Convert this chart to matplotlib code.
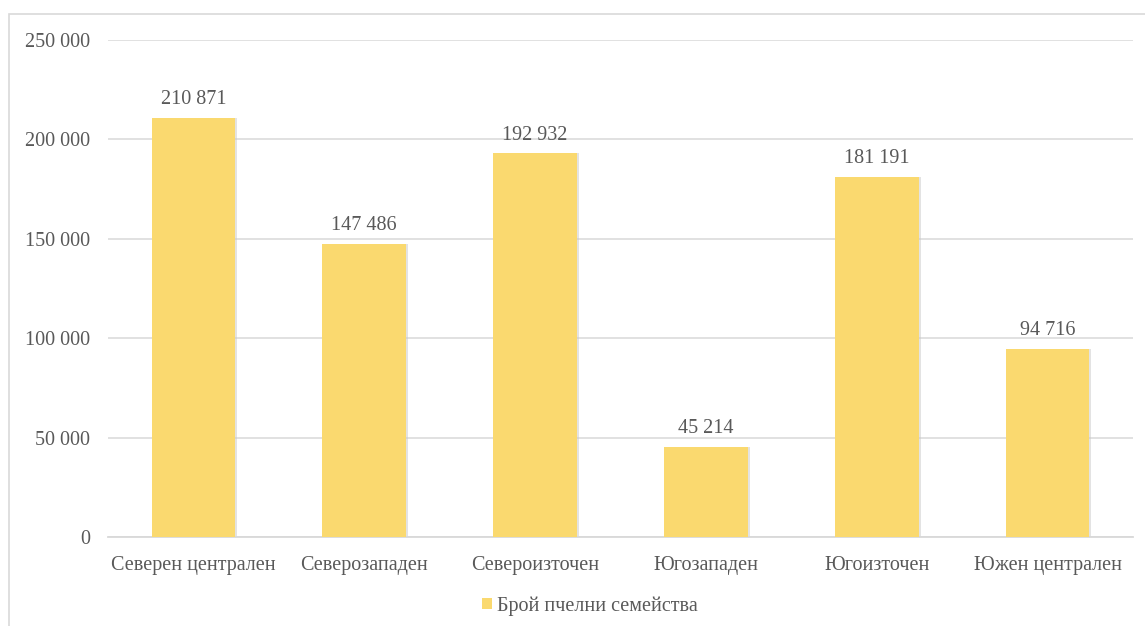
import matplotlib.pyplot as plt
from matplotlib.patches import Rectangle
from matplotlib.ticker import FuncFormatter

regions = ['Северен централен', 'Северозападен', 'Североизточен',
           'Югозападен', 'Югоизточен', 'Южен централен']
colonies = [210871, 147486, 192932, 45214, 181191, 94716]
series_name = 'Брой пчелни семейства'

plt.rcParams['font.family'] = ['Liberation Serif', 'DejaVu Serif']
txt = '#595959'
bar_col = '#FAD96F'
fs = 14.5

fig = plt.figure(figsize=(11.45, 6.26), dpi=100)
ax = fig.add_axes([108/1145, 1 - 537/626, (1133-108)/1145, (537-40)/626])

# outer chart frame (runs past the right and bottom edges)
fig.patches.append(Rectangle((9/1145, -0.1), 1.2, 1 - 14/626 + 0.1,
                             transform=fig.transFigure, fill=False,
                             edgecolor='#d9d9d9', lw=1.2))

x = range(len(regions))
# soft drop shadow behind the bars
ax.bar([i + 0.012 for i in x], colonies, width=0.49, color='#c8c8c8',
       alpha=0.5, zorder=2)
bars = ax.bar(x, colonies, width=0.49, color=bar_col, zorder=3,
              label=series_name)

fmt = lambda v: f'{int(v):,}'.replace(',', ' ')
for b, v in zip(bars, colonies):
    ax.text(b.get_x() + b.get_width()/2, v + 4500, fmt(v), ha='center',
            va='bottom', fontsize=fs, color=txt)

ax.set_xlim(-0.5, len(regions) - 0.5)
ax.set_ylim(0, 250000)
ax.set_yticks(range(0, 250001, 50000))
ax.yaxis.set_major_formatter(FuncFormatter(lambda v, p: fmt(v)))
ax.set_xticks(list(x))
ax.set_xticklabels(regions)
ax.tick_params(axis='both', length=0, labelsize=fs, labelcolor=txt)
ax.tick_params(axis='y', pad=13)
ax.tick_params(axis='x', pad=14)
ax.grid(axis='y', color='#d9d9d9', lw=1.1, zorder=0)
ax.set_axisbelow(True)
for s in ['top', 'right', 'left']:
    ax.spines[s].set_visible(False)
ax.spines['bottom'].set_color('#d9d9d9')
ax.spines['bottom'].set_linewidth(1.3)

fig.legend(handles=[bars], labels=[series_name], loc='center',
           bbox_to_anchor=(590/1145, 1 - 606/626), frameon=False,
           fontsize=fs, labelcolor=txt, handlelength=0.5, handleheight=0.5,
           handletextpad=0.25)

fig.savefig('out.png', dpi=100)
